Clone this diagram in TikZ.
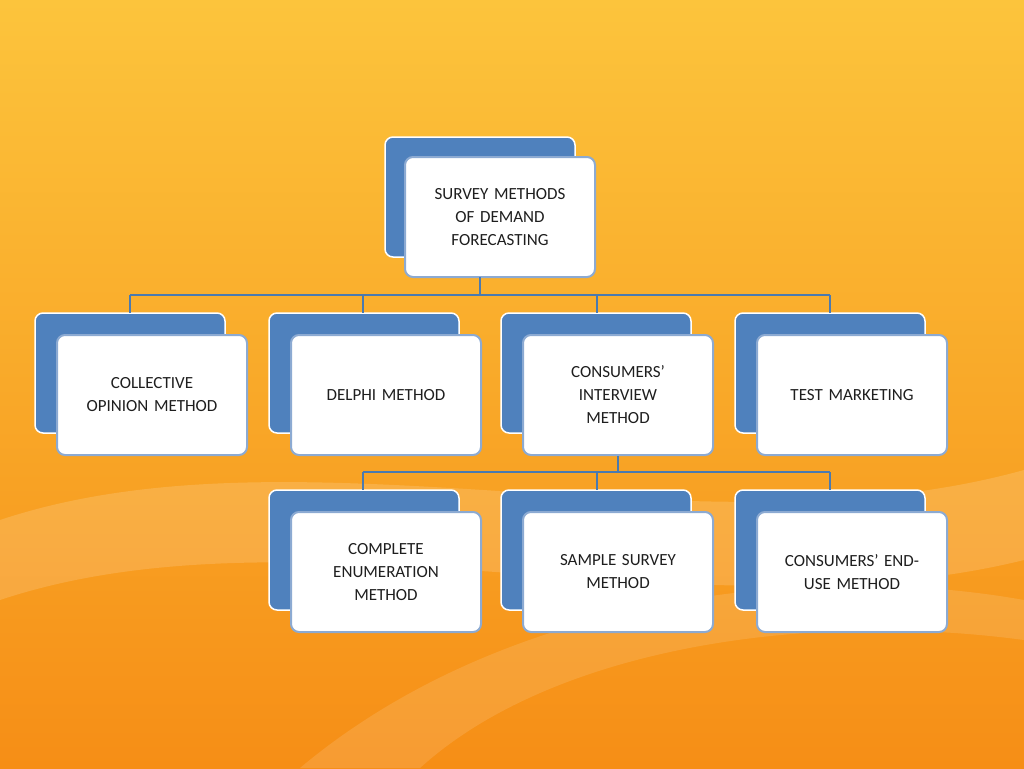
\documentclass[tikz,border=0pt]{standalone}
\usepackage{fontspec}
\setmainfont{Carlito}
\begin{document}
\begin{tikzpicture}[x=1pt,y=-1pt,
 back/.style={fill={rgb,255:red,79;green,129;blue,189},draw=white,line width=1.5pt,rounded corners=8pt},
 front/.style={fill=white,draw={rgb,255:red,140;green,170;blue,210},line width=2pt,rounded corners=8pt,align=center,font=\fontsize{17}{23}\selectfont,text={rgb,255:red,30;green,30;blue,30}},
 conn/.style={draw={rgb,255:red,74;green,122;blue,176},line width=2pt}]
\definecolor{topc}{RGB}{252,196,60}
\definecolor{botc}{RGB}{246,142,22}
\shade[top color=topc,bottom color=botc] (0,0) rectangle (1024,768);
\useasboundingbox (0,0) rectangle (1024,768);
\fill[white,opacity=0.15] (0,520) .. controls (300,420) and (700,560) .. (1024,470) -- (1024,560) .. controls (700,640) and (300,500) .. (0,600) -- cycle;
\fill[white,opacity=0.12] (300,768) .. controls (500,600) and (800,560) .. (1024,600) -- (1024,640) .. controls (800,610) and (550,650) .. (420,768) -- cycle;
\newcommand{\mybox}[6]{%
 \filldraw[back] (#1,#2) rectangle ++(190,120);
 \node[front,minimum width=190pt,minimum height=120pt,text width=176pt] (#5) at (#3+95,#4+60) {#6};}
\mybox{385}{137}{405}{157}{top}{SURVEY METHODS\\OF DEMAND\\FORECASTING}
\mybox{35}{313}{57}{335}{a}{COLLECTIVE\\OPINION METHOD}
\mybox{269}{313}{291}{335}{b}{DELPHI METHOD}
\mybox{501}{313}{523}{335}{c}{CONSUMERS'\\INTERVIEW\\METHOD}
\mybox{735}{313}{757}{335}{d}{TEST MARKETING}
\mybox{269}{490}{291}{512}{e}{COMPLETE\\ENUMERATION\\METHOD}
\mybox{501}{490}{523}{512}{f}{SAMPLE SURVEY\\METHOD}
\mybox{735}{490}{757}{512}{g}{CONSUMERS' END-\\USE METHOD}
\coordinate (tb) at (480,277);
\draw[conn] (tb) -- (480,295);
\draw[conn] (130,295) -- (830,295);
\foreach \x in {130,363,597,830} \draw[conn] (\x,295) -- (\x,313);
\draw[conn] (c.south) -- ++(0,17);
\draw[conn] (363,472) -- (830,472);
\foreach \x in {363,597,830} \draw[conn] (\x,472) -- (\x,490);
\end{tikzpicture}
\end{document}
